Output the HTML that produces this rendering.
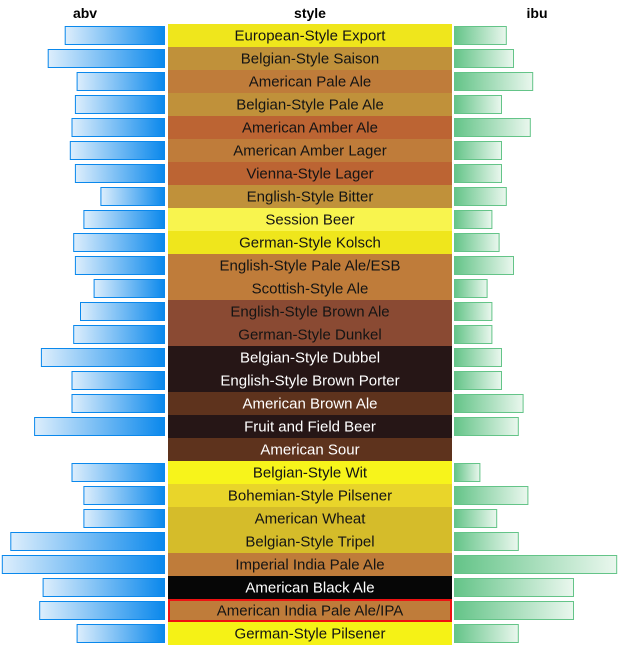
<!DOCTYPE html>
<html><head><meta charset="utf-8">
<style>
html,body{margin:0;padding:0;background:#fff;}
svg{display:block;font-family:"Liberation Sans",sans-serif;}
</style></head>
<body>
<svg id="chart" width="621" height="653">
<defs>
<linearGradient id="gBlue" x1="0" x2="1" y1="0" y2="0"><stop offset="0" stop-color="#ddeefc"/><stop offset="1" stop-color="#0a88ec"/></linearGradient>
<linearGradient id="gGreen" x1="0" x2="1" y1="0" y2="0"><stop offset="0" stop-color="#64c488"/><stop offset="1" stop-color="#eaf7ee"/></linearGradient>
</defs>
<text x="85" y="18" text-anchor="middle" font-weight="bold" font-size="14">abv</text>
<text x="310" y="18" text-anchor="middle" font-weight="bold" font-size="14">style</text>
<text x="537" y="18" text-anchor="middle" font-weight="bold" font-size="14">ibu</text>
<g id="rows"></g>
</svg>
<script>
const styles = ["European-Style Export","Belgian-Style Saison","American Pale Ale","Belgian-Style Pale Ale","American Amber Ale","American Amber Lager","Vienna-Style Lager","English-Style Bitter","Session Beer","German-Style Kolsch","English-Style Pale Ale/ESB","Scottish-Style Ale","English-Style Brown Ale","German-Style Dunkel","Belgian-Style Dubbel","English-Style Brown Porter","American Brown Ale","Fruit and Field Beer","American Sour","Belgian-Style Wit","Bohemian-Style Pilsener","American Wheat","Belgian-Style Tripel","Imperial India Pale Ale","American Black Ale","American India Pale Ale/IPA","German-Style Pilsener"];
const abv = [5.9,6.9,5.2,5.3,5.5,5.6,5.3,3.8,4.8,5.4,5.3,4.2,5.0,5.4,7.3,5.5,5.5,7.7,0,5.5,4.8,4.8,9.1,9.6,7.2,7.4,5.2];
const ibu = [22,25,33,20,32,20,20,22,16,19,25,14,16,16,20,20,29,27,0,11,31,18,27,68,50,50,27];
const colors = ["#efe61c","#c0913a","#bf7c3a","#c0913a","#bc6433","#bf7c3a","#bc6433","#c0913a","#f8f44e","#efe61c","#bf7c3a","#bf7c3a","#8a4a33","#8a4a33","#261616","#261616","#5e331d","#261616","#5e331d","#f7f41b","#e9d52a","#d5bc2a","#d5bc2a","#bf7c3a","#060606","#bf7c3a","#f5f216"];
const lightText = [0,0,0,0,0,0,0,0,0,0,0,0,0,0,1,1,1,1,1,0,0,0,0,0,1,0,0];
const selected = 25;

const NS="http://www.w3.org/2000/svg";
const g=document.getElementById('rows');
const top0=24, rowH=23, styleX=168, styleW=284, abvRight=165, ibuLeft=454;
const abvScale=v=>v*17, ibuScale=v=>v*2.4;
function mk(t,a){const e=document.createElementNS(NS,t);for(const k in a)e.setAttribute(k,a[k]);return e;}
styles.forEach((s,i)=>{
  const y=top0+i*rowH;
  const bg=mk('rect',{x:styleX,y:y,width:styleW,height:rowH,fill:colors[i]});
  
  
  g.appendChild(bg);
  const t=mk('text',{x:styleX+styleW/2,y:y+16.5,'text-anchor':'middle','font-size':'15',fill:lightText[i]?'#ffffff':'#141414'});
  t.textContent=s;
  
  
  g.appendChild(t);
  if(abv[i]>0){
    const w=abvScale(abv[i]);
    const b=mk('rect',{x:abvRight-w+0.5,y:y+2.5,width:w-1,height:rowH-5,fill:'url(#gBlue)',stroke:'#0a88ec','stroke-width':1});
    
    
    g.appendChild(b);
  }
  if(ibu[i]>0){
    const w=ibuScale(ibu[i]);
    const b=mk('rect',{x:ibuLeft+0.5,y:y+2.5,width:w-1,height:rowH-5,fill:'url(#gGreen)',stroke:'#64c488','stroke-width':1});
    
    
    g.appendChild(b);
  }
});
const sy=top0+selected*rowH;
const sel=mk('rect',{x:styleX+1,y:sy+1,width:styleW-2,height:rowH-2,fill:'none',stroke:'#ee1111','stroke-width':2});


g.appendChild(sel);
</script>
</body></html>
